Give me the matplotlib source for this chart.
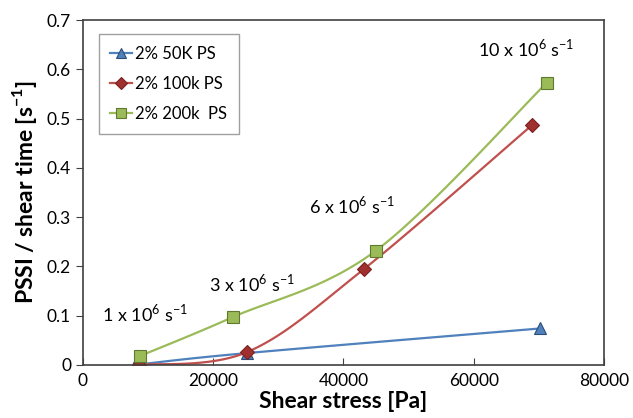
import numpy as np
import matplotlib
matplotlib.use("Agg")
import matplotlib.pyplot as plt

plt.rcParams['font.family'] = ['Lato', 'DejaVu Sans']
plt.rcParams['mathtext.fontset'] = 'custom'
plt.rcParams['mathtext.rm'] = 'Lato'
plt.rcParams['mathtext.bf'] = 'Lato:bold'

# data
x_50k = [8000, 25200, 70200]
y_50k = [0.0, 0.024, 0.074]
x_100k = [8600, 25200, 43100, 68900]
y_100k = [0.0, 0.026, 0.194, 0.486]
x_200k = [8750, 23000, 45000, 71250]
y_200k = [0.018, 0.097, 0.232, 0.573]

labels = ['2% 50K PS', '2% 100k PS', '2% 200k  PS']
rates = ['1', '3', '6', '10']
rate_x = [9500, 26000, 41300, 68000]
rate_y = [0.105, 0.166, 0.325, 0.643]


def smooth(xs, ys, n=40):
    # catmull-rom style smoothing like the spreadsheet "smoothed line"
    p = np.column_stack([xs, ys]).astype(float)
    p = np.vstack([p[0], p, p[-1]])
    out = []
    for i in range(1, len(p) - 2):
        p0, p1, p2, p3 = p[i - 1], p[i], p[i + 1], p[i + 2]
        t = np.linspace(0, 1, n)[:, None]
        c1 = p1 + (p2 - p0) / 6
        c2 = p2 - (p3 - p1) / 6
        seg = ((1 - t) ** 3) * p1 + 3 * ((1 - t) ** 2) * t * c1 + 3 * (1 - t) * t ** 2 * c2 + t ** 3 * p2
        out.append(seg)
    s = np.vstack(out)
    return s[:, 0], s[:, 1]


fig = plt.figure(figsize=(6.33, 4.18), dpi=100)
ax = fig.add_axes([0.131, 0.127, 0.823, 0.825])

series = [
    (x_50k, y_50k, '#4F81BD', '#4F81BD', '#2c4d75', '^', 8),
    (x_100k, y_100k, '#C0504D', '#A0302D', '#7a2020', 'D', 7),
    (x_200k, y_200k, '#9BBB59', '#9BBB59', '#5f7a2e', 's', 9),
]
for (xs, ys, lc, fc, ec, mk, ms), lab in zip(series, labels):
    sx, sy = smooth(xs, ys)
    ax.plot(sx, sy, color=lc, lw=1.6)
    ax.plot(xs, ys, ls='none', marker=mk, ms=ms, mfc=fc, mec=ec, mew=0.8)
    ax.plot([], [], color=lc, lw=1.6, marker=mk, ms=ms * 0.85, mfc=fc, mec=ec,
            mew=0.8, label=lab)

for r, tx, ty in zip(rates, rate_x, rate_y):
    ax.text(tx, ty, r'%s x 10$^{\mathregular{6}}$ s$^{\mathregular{-1}}$' % r,
            ha='center', va='center', fontsize=13)

ax.set_xlim(0, 80000)
ax.set_ylim(0, 0.7)
ax.set_xticks([0, 20000, 40000, 60000, 80000])
ax.set_yticks(np.arange(0, 0.71, 0.1))
ax.set_yticklabels(['0', '0.1', '0.2', '0.3', '0.4', '0.5', '0.6', '0.7'])
ax.tick_params(axis='x', direction='in', length=5, labelsize=12.5, pad=6, color='#404040')
ax.tick_params(axis='y', direction='out', length=5, labelsize=12.5, color='#404040')
for s in ax.spines.values():
    s.set_color('#404040')
    s.set_linewidth(1.2)

ax.set_xlabel('Shear stress [Pa]', fontsize=16.5, fontweight='bold', labelpad=1)
ax.set_ylabel(r'PSSI / shear time [s$^{\mathregular{-1}}$]', fontsize=16.5,
              fontweight='bold', labelpad=6)

leg = ax.legend(loc='upper left', bbox_to_anchor=(0.03, 0.96), fontsize=12,
                frameon=True, fancybox=False, edgecolor='#888888',
                handlelength=1.3, handletextpad=0.2, labelspacing=0.85,
                borderpad=0.7, borderaxespad=0)
leg.get_frame().set_linewidth(1.0)

fig.savefig('out.png', dpi=100)
